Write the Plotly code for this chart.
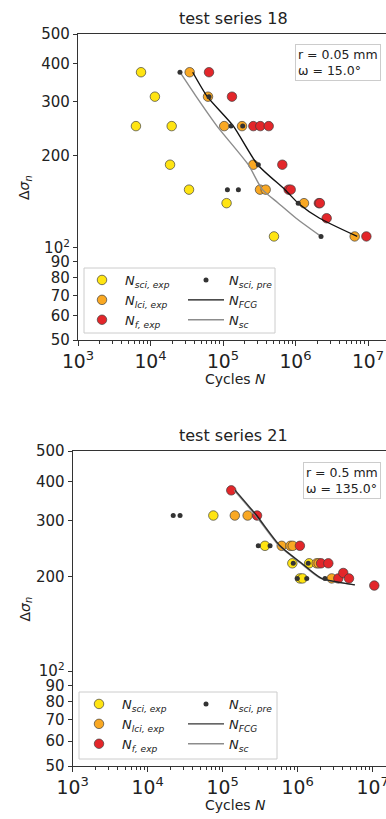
import plotly.graph_objects as go
import numpy as np

# ---------------- data: test series 18 ----------------
s18_sci_N = [7400, 11500, 6300, 19600, 18600, 34000, 112000, 505000]
s18_sci_S = [375, 312, 250, 250, 187, 155, 140, 109]
s18_lci_N = [34700, 62100, 104000, 183000, 262000, 324000, 388000, 1310000, 6550000]
s18_lci_S = [375, 312, 250, 250, 187, 155, 155, 140, 109]
s18_f_N = [64100, 133000, 262000, 327000, 427000, 658000, 805000, 859000, 2100000, 2170000, 2690000, 9500000]
s18_f_S = [375, 312, 250, 250, 250, 187, 155, 155, 140, 140, 125, 109]
s18_pre_N = [25500, 64100, 129000, 187000, 307000, 115000, 163000, 1090000, 2250000]
s18_pre_S = [375, 312, 250, 250, 187, 155, 155, 140, 109]
s18_fcg_N = [38200, 60800, 139000, 300000, 716000, 1090000, 2150000, 7100000]
s18_fcg_S = [375, 312, 250, 187, 155, 140, 125, 109]
s18_sc_N = [25500, 42800, 82600, 223000, 350000, 580000, 1020000, 2250000]
s18_sc_S = [375, 312, 250, 187, 155, 140, 125, 109]

# ---------------- data: test series 21 ----------------
s21_sci_N = [75000, 366000, 848000, 1420000, 1070000, 1160000]
s21_sci_S = [312, 250, 220, 220, 197, 197]
s21_lci_N = [145000, 215000, 612000, 800000, 858000, 1790000, 1900000, 2840000]
s21_lci_S = [312, 312, 250, 250, 250, 220, 220, 197]
s21_f_N = [130000, 287000, 1070000, 2050000, 2560000, 3480000, 4050000, 4830000, 10500000]
s21_f_S = [375, 312, 250, 220, 220, 197, 205, 197, 187]
s21_pre_N = [21900, 27000, 298000, 428000, 873000, 1380000, 988000, 1320000, 2310000]
s21_pre_S = [312, 312, 250, 250, 220, 220, 197, 197, 197]
s21_fcg_N = [147000, 284000, 581000, 1130000, 2090000, 5810000]
s21_fcg_S = [375, 312, 250, 220, 197, 188]
s21_sc_N = [142000, 275000, 565000, 1100000, 2030000, 5700000]
s21_sc_S = [375, 312, 250, 220, 197, 188]

titles = ["test series 18", "test series 21"]
boxes = ["r = 0.05 mm<br>ω = 15.0°", "r = 0.5 mm<br>ω = 135.0°"]
ytick_vals = [50, 60, 70, 80, 90, 100, 200, 300, 400, 500]
ytick_text = ["50", "60", "70", "80", "90", "10<sup>2</sup>", "200", "300", "400", "500"]
xlabel = "Cycles <i>N</i>"
ylabel = "Δ<i>σ</i><sub><i>n</i></sub>"

YEL = "#FFE412"
ORA = "#F9A823"
RED = "#E3262A"
EDGE = "rgba(60,60,60,0.85)"
DOT = "#333333"

FONT = "DejaVu Sans"
W, H = 386, 819

names = {
    "sci": "<i>N</i><sub><i>sci, exp</i></sub>",
    "lci": "<i>N</i><sub><i>lci, exp</i></sub>",
    "f": "<i>N</i><sub><i>f, exp</i></sub>",
    "pre": "<i>N</i><sub><i>sci, pre</i></sub>",
    "fcg": "<i>N</i><sub><i>FCG</i></sub>",
    "sc": "<i>N</i><sub><i>sc</i></sub>",
}

fig = go.Figure()

datasets = [
    dict(sci=(s18_sci_N, s18_sci_S), lci=(s18_lci_N, s18_lci_S), f=(s18_f_N, s18_f_S),
         pre=(s18_pre_N, s18_pre_S), fcg=(s18_fcg_N, s18_fcg_S), sc=(s18_sc_N, s18_sc_S)),
    dict(sci=(s21_sci_N, s21_sci_S), lci=(s21_lci_N, s21_lci_S), f=(s21_f_N, s21_f_S),
         pre=(s21_pre_N, s21_pre_S), fcg=(s21_fcg_N, s21_fcg_S), sc=(s21_sc_N, s21_sc_S)),
]

# pixel geometry of the two panels and their legend frames
panels = [
    dict(left=78, top=34, bottom=340, xmax=3 + (W - 78) / 72.5, box_top=44,
         lg_box=(84, 268, 275, 333), row1=279, col1=79, col2=183),
    dict(left=72.7, top=451, bottom=766, xmax=3 + (W - 72.7) / 75.0, box_top=462,
         lg_box=(79, 692, 277, 759), row1=703, col1=76, col2=183),
]

ranks = dict(sci=1, lci=2, f=3, pre=4, fcg=5, sc=6)
legend_names = [("legend", "legend3"), ("legend2", "legend4")]

for i, d in enumerate(datasets):
    ax = "" if i == 0 else "2"
    xa, ya = "x" + ax, "y" + ax
    lgA, lgB = legend_names[i]
    for key, col in [("sci", YEL), ("lci", ORA), ("f", RED)]:
        N, S = d[key]
        fig.add_trace(go.Scatter(x=N, y=S, mode="markers", name=names[key],
                                 marker=dict(size=9.5, color=col, line=dict(color=EDGE, width=0.8)),
                                 xaxis=xa, yaxis=ya, legend=lgA, legendrank=ranks[key]))
    N, S = d["sc"]
    fig.add_trace(go.Scatter(x=N, y=S, mode="lines", name=names["sc"],
                             line=dict(color="#8c8c8c", width=1.4, shape="spline", smoothing=0.6),
                             xaxis=xa, yaxis=ya, legend=lgB, legendrank=ranks["sc"]))
    N, S = d["fcg"]
    fig.add_trace(go.Scatter(x=N, y=S, mode="lines", name=names["fcg"],
                             line=dict(color="#111111", width=1.4, shape="spline", smoothing=0.6),
                             opacity=0.85 if i == 1 else 1.0,
                             xaxis=xa, yaxis=ya, legend=lgB, legendrank=ranks["fcg"]))
    N, S = d["pre"]
    fig.add_trace(go.Scatter(x=N, y=S, mode="markers", name=names["pre"],
                             marker=dict(size=5, color=DOT),
                             xaxis=xa, yaxis=ya, legend=lgB, legendrank=ranks["pre"]))

layout = dict(
    width=W, height=H, margin=dict(l=0, r=0, t=0, b=0, autoexpand=False),
    paper_bgcolor="white", plot_bgcolor="white",
    font=dict(family=FONT, size=13, color="#222222"),
    showlegend=True,
)

annotations = []
shapes = []
for i, p in enumerate(panels):
    ax = "" if i == 0 else "2"
    xdom = [p["left"] / W, 1.0]
    ydom = [1 - p["bottom"] / H, 1 - p["top"] / H]
    layout["xaxis" + ax] = dict(
        type="log", range=[3, p["xmax"]], domain=xdom, anchor="y" + ax, automargin=False,
        dtick=1, exponentformat="power", showexponent="all",
        ticks="outside", ticklen=5, tickwidth=1, ticklabeloverflow="allow",
        tickcolor="#333", showline=True, linecolor="#333", linewidth=1.2, mirror=True,
        showgrid=False, zeroline=False, tickfont=dict(size=15, family=FONT, color="#222"),
        minor=dict(ticks="outside", ticklen=2.5, tickcolor="#333", tickwidth=0.8, dtick="D1", showgrid=False),
    )
    layout["yaxis" + ax] = dict(
        type="log", range=[np.log10(50), np.log10(500)], domain=ydom, anchor="x" + ax, automargin=False,
        tickmode="array", tickvals=ytick_vals, ticktext=ytick_text, ticks="outside", ticklen=4, tickwidth=1,
        tickcolor="#333", showline=True, linecolor="#333", linewidth=1.2, ticklabeloverflow="allow",
        showgrid=False, zeroline=False, tickfont=dict(size=15, family=FONT, color="#222"),
    )
    lgA, lgB = legend_names[i]
    for lgname, cx in [(lgA, p["col1"]), (lgB, p["col2"])]:
        layout[lgname] = dict(
            orientation="v", x=cx / W, y=1 - (p["row1"] - 14) / H,
            xanchor="left", yanchor="top", traceorder="normal", itemwidth=36,
            bgcolor="rgba(0,0,0,0)", borderwidth=0,
            font=dict(size=13, family=FONT, color="#222"), tracegroupgap=0,
        )
    x0, y0, x1, y1 = p["lg_box"]
    shapes.append(dict(type="rect", xref="paper", yref="paper", layer="above",
                       x0=x0 / W, x1=x1 / W, y0=1 - y1 / H, y1=1 - y0 / H,
                       fillcolor="rgba(255,255,255,0.85)", line=dict(color="#cccccc", width=1)))
    # title
    annotations.append(dict(text=titles[i], xref="paper", yref="paper",
                            x=233 / W, y=1 - (p["top"] - 16) / H,
                            xanchor="center", yanchor="middle", showarrow=False,
                            font=dict(size=16, family=FONT, color="#222")))
    # axis titles
    annotations.append(dict(text=xlabel, xref="paper", yref="paper",
                            x=235 / W, y=1 - (p["bottom"] + 39) / H,
                            xanchor="center", yanchor="middle", showarrow=False,
                            font=dict(size=14, family=FONT, color="#222")))
    annotations.append(dict(text=ylabel, xref="paper", yref="paper", textangle=-90,
                            x=25 / W, y=1 - ((p["top"] + p["bottom"]) / 2) / H,
                            xanchor="center", yanchor="middle", showarrow=False,
                            font=dict(size=14, family=FONT, color="#222")))
    # parameter box
    annotations.append(dict(text=boxes[i], xref="paper", yref="paper",
                            x=(W - 5) / W, y=1 - p["box_top"] / H,
                            xanchor="right", yanchor="top", showarrow=False, align="left",
                            bordercolor="#cccccc", borderwidth=1, borderpad=2, bgcolor="white",
                            font=dict(size=12.5, family=FONT, color="#222")))

layout["annotations"] = annotations
layout["shapes"] = shapes
fig.update_layout(**layout)
fig.write_html("out.html")
